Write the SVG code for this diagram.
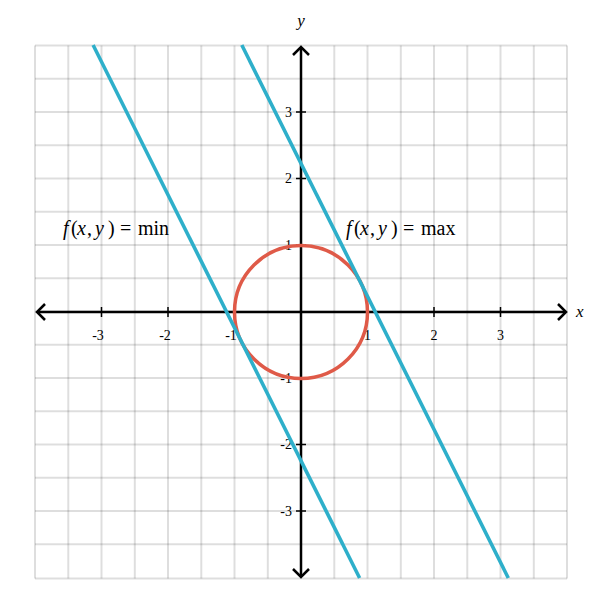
<svg xmlns="http://www.w3.org/2000/svg" width="604" height="604" viewBox="0 0 604 604">
<style>
.grid line{stroke:#000;stroke-opacity:0.13;stroke-width:2}
.axis{stroke:#000;stroke-width:2.5;fill:none}
.tick{stroke:#000;stroke-width:1.5}
.tl{font-family:"Liberation Serif","DejaVu Serif",serif;font-size:14px;fill:#000}
.lab{font-family:"Liberation Serif","DejaVu Serif",serif;font-size:20px;fill:#000}
.ax{font-family:"Liberation Serif","DejaVu Serif",serif;font-size:17px;fill:#000;font-style:italic}
.it{font-style:italic}
</style>
<rect width="604" height="604" fill="#fff"/>
<g id="grid" class="grid">
<line x1="35" y1="45.5" x2="35" y2="578.5"/><line x1="68.3" y1="45.5" x2="68.3" y2="578.5"/><line x1="101.5" y1="45.5" x2="101.5" y2="578.5"/><line x1="134.8" y1="45.5" x2="134.8" y2="578.5"/><line x1="168" y1="45.5" x2="168" y2="578.5"/><line x1="201.3" y1="45.5" x2="201.3" y2="578.5"/><line x1="234.5" y1="45.5" x2="234.5" y2="578.5"/><line x1="267.8" y1="45.5" x2="267.8" y2="578.5"/><line x1="301" y1="45.5" x2="301" y2="578.5"/><line x1="334.3" y1="45.5" x2="334.3" y2="578.5"/><line x1="367.5" y1="45.5" x2="367.5" y2="578.5"/><line x1="400.8" y1="45.5" x2="400.8" y2="578.5"/><line x1="434" y1="45.5" x2="434" y2="578.5"/><line x1="467.3" y1="45.5" x2="467.3" y2="578.5"/><line x1="500.5" y1="45.5" x2="500.5" y2="578.5"/><line x1="533.8" y1="45.5" x2="533.8" y2="578.5"/><line x1="567" y1="45.5" x2="567" y2="578.5"/>
<line x1="35" y1="45.5" x2="567" y2="45.5"/><line x1="35" y1="78.8" x2="567" y2="78.8"/><line x1="35" y1="112" x2="567" y2="112"/><line x1="35" y1="145.3" x2="567" y2="145.3"/><line x1="35" y1="178.5" x2="567" y2="178.5"/><line x1="35" y1="211.8" x2="567" y2="211.8"/><line x1="35" y1="245" x2="567" y2="245"/><line x1="35" y1="278.3" x2="567" y2="278.3"/><line x1="35" y1="311.5" x2="567" y2="311.5"/><line x1="35" y1="344.8" x2="567" y2="344.8"/><line x1="35" y1="378" x2="567" y2="378"/><line x1="35" y1="411.3" x2="567" y2="411.3"/><line x1="35" y1="444.5" x2="567" y2="444.5"/><line x1="35" y1="477.8" x2="567" y2="477.8"/><line x1="35" y1="511" x2="567" y2="511"/><line x1="35" y1="544.3" x2="567" y2="544.3"/><line x1="35" y1="578.5" x2="567" y2="578.5"/>
</g>
<g id="axes">
<line class="axis" x1="37" y1="312" x2="566" y2="312"/>
<polyline class="axis" points="45,304 37,312 45,320"/>
<polyline class="axis" points="558,304 566,312 558,320"/>
<line class="axis" x1="301" y1="47" x2="301" y2="577"/>
<polyline class="axis" points="293,55 301,47 309,55"/>
<polyline class="axis" points="293,569 301,577 309,569"/>
<g class="tick">
<line x1="101.5" y1="307" x2="101.5" y2="317"/><line x1="168" y1="307" x2="168" y2="317"/><line x1="234.5" y1="307" x2="234.5" y2="317"/><line x1="367.5" y1="307" x2="367.5" y2="317"/><line x1="434" y1="307" x2="434" y2="317"/><line x1="500.5" y1="307" x2="500.5" y2="317"/>
<line x1="296" y1="112" x2="306" y2="112"/><line x1="296" y1="178.5" x2="306" y2="178.5"/><line x1="296" y1="245" x2="306" y2="245"/><line x1="296" y1="378" x2="306" y2="378"/><line x1="296" y1="444.5" x2="306" y2="444.5"/><line x1="296" y1="511" x2="306" y2="511"/>
</g>
<text class="tl" x="98" y="340" text-anchor="middle">-3</text>
<text class="tl" x="165" y="340" text-anchor="middle">-2</text>
<text class="tl" x="231" y="340" text-anchor="middle">-1</text>
<text class="tl" x="367.5" y="340" text-anchor="middle">1</text>
<text class="tl" x="434" y="340" text-anchor="middle">2</text>
<text class="tl" x="500.5" y="340" text-anchor="middle">3</text>
<text class="tl" x="292" y="117" text-anchor="end">3</text>
<text class="tl" x="292" y="183" text-anchor="end">2</text>
<text class="tl" x="292" y="250" text-anchor="end">1</text>
<text class="tl" x="292" y="383" text-anchor="end">-1</text>
<text class="tl" x="292" y="449" text-anchor="end">-2</text>
<text class="tl" x="292" y="516" text-anchor="end">-3</text>
<text class="ax" x="576" y="317">x</text>
<text class="ax" x="301" y="26" text-anchor="middle">y</text>
</g>
<g id="circle">
<circle cx="301" cy="312" r="66.5" fill="none" stroke="#df5a48" stroke-width="3.5"/>
</g>
<g id="connectors">
<line x1="93.1" y1="45" x2="359.6" y2="578" stroke="#2eafca" stroke-width="3.6"/>
<line x1="241.8" y1="45" x2="508.3" y2="578" stroke="#2eafca" stroke-width="3.6"/>
</g>
<g id="label-min">
<text class="lab" y="235"><tspan class="it" x="63">f</tspan><tspan x="71">(</tspan><tspan class="it" x="77">x</tspan><tspan x="87">,</tspan><tspan class="it" x="95">y</tspan><tspan x="108">)</tspan><tspan x="120">=</tspan><tspan x="138">min</tspan></text>
</g>
<g id="label-max">
<text class="lab" y="235"><tspan class="it" x="346">f</tspan><tspan x="354">(</tspan><tspan class="it" x="360">x</tspan><tspan x="370">,</tspan><tspan class="it" x="378">y</tspan><tspan x="391">)</tspan><tspan x="403">=</tspan><tspan x="421">max</tspan></text>
</g>
</svg>
